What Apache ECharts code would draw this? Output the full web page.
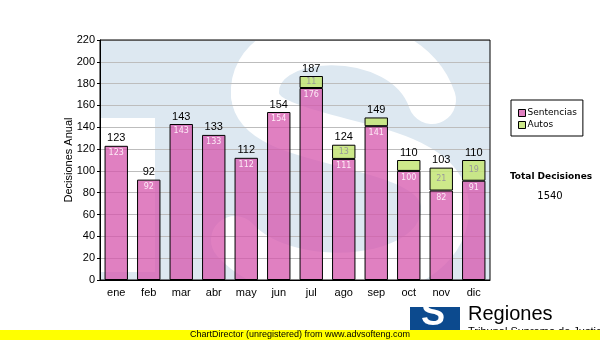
<!DOCTYPE html>
<html>
<head>
<meta charset="utf-8">
<script src="https://cdn.jsdelivr.net/npm/echarts@6/dist/echarts.min.js"></script>
<style>
html,body{margin:0;padding:0;background:#fff;}
#chart{width:600px;height:340px;}
</style>
</head>
<body>
<div id="chart"></div>
<script>
const categories = ['ene','feb','mar','abr','may','jun','jul','ago','sep','oct','nov','dic'];
const sentencias = [123, 92, 143, 133, 112, 154, 176, 111, 141, 100, 82, 91];
const autos = [0, 0, 0, 0, 0, 0, 11, 13, 8, 10, 21, 19];
const yTicks = { min: 0, max: 220, interval: 20 };
const seriesNames = ['Sentencias', 'Autos'];
const totals = sentencias.map((v, i) => v + autos[i]);
const grandTotal = totals.reduce((a, b) => a + b, 0);

const chart = echarts.init(document.getElementById('chart'), null, { renderer: 'canvas' });
const ARIAL = 'Liberation Sans, Arial, sans-serif';
const VERD = 'DejaVu Sans, Verdana, sans-serif';

function seg(x1, y1, c1x, c1y, c2x, c2y, x2, y2) {
  return { type: 'bezierCurve', z: 1, silent: true,
    shape: { x1: x1, y1: y1, cpx1: c1x, cpy1: c1y, cpx2: c2x, cpy2: c2y, x2: x2, y2: y2 },
    style: { fill: null, stroke: '#ffffff', lineWidth: 48, lineCap: 'round' } };
}

chart.setOption({
  animation: false,
  backgroundColor: '#ffffff',
  grid: { left: 100, right: 110, top: 40, bottom: 60, show: true, backgroundColor: 'transparent', borderColor: '#000', borderWidth: 1, z: 5 },
  legend: {
    data: seriesNames,
    orient: 'vertical',
    left: 511, top: 100,
    padding: [7, 6, 5, 7],
    itemGap: 0,
    itemWidth: 7, itemHeight: 7,
    borderColor: '#000', borderWidth: 1,
    icon: 'rect',
    itemStyle: { borderColor: '#000', borderWidth: 1 },
    textStyle: { fontFamily: VERD, fontSize: 9, color: '#000', lineHeight: 12, padding: [0, 0, 0, -3] }
  },
  xAxis: {
    type: 'category', data: categories, z: 6,
    axisLine: { lineStyle: { color: '#000', width: 1 } },
    axisTick: { alignWithLabel: true, length: 4, lineStyle: { color: '#000' } },
    axisLabel: { fontFamily: ARIAL, fontSize: 11, color: '#000', margin: 7 }
  },
  yAxis: {
    type: 'value', min: yTicks.min, max: yTicks.max, interval: yTicks.interval, z: 3,
    name: 'Decisiones Anual', nameLocation: 'middle', nameGap: 26, nameRotate: 90,
    nameMoveOverlap: false,
    nameTextStyle: { fontFamily: ARIAL, fontSize: 11, color: '#000' },
    axisLine: { show: true, lineStyle: { color: '#000', width: 1 } },
    axisTick: { show: true, length: 3, lineStyle: { color: '#000' } },
    axisLabel: { fontFamily: ARIAL, fontSize: 11, color: '#000', margin: 5 },
    splitLine: { show: true, lineStyle: { color: '#bdbdbd', width: 1 } }
  },
  graphic: [
    { type: 'rect', z: 1, silent: true, shape: { x: 100, y: 40, width: 390, height: 240 }, style: { fill: '#dde8f1' } },
    { type: 'rect', z: 1, silent: true, shape: { x: 100, y: 118, width: 55, height: 154 }, style: { fill: '#ffffff' } },
    seg(432, 100, 405, 20, 250, 25, 255, 95),
    seg(255, 95, 260, 150, 440, 135, 445, 205),
    seg(445, 205, 450, 285, 290, 300, 235, 240),
    { type: 'rect', z: 1, silent: true, shape: { x: 99, y: 280.5, width: 392, height: 30 }, style: { fill: '#ffffff' } },
    { type: 'rect', z: 1, silent: true, shape: { x: 99, y: 0, width: 392, height: 39.5 }, style: { fill: '#ffffff' } },
    { type: 'rect', z: 1, silent: true, shape: { x: 490.5, y: 0, width: 60, height: 300 }, style: { fill: '#ffffff' } },
    { type: 'text', z: 10, x: 551, y: 177, style: { text: 'Total Decisiones', font: 'bold 9px DejaVu Sans', fill: '#000', align: 'center', verticalAlign: 'middle' } },
    { type: 'text', z: 10, x: 550, y: 196, style: { text: String(grandTotal), font: '10px DejaVu Sans', fill: '#000', align: 'center', verticalAlign: 'middle' } },
    { type: 'rect', z: 10, shape: { x: 410, y: 307, width: 50, height: 25 }, style: { fill: '#0c4a8e' } },
    { type: 'text', z: 11, left: 421, top: 297, style: { text: 'S', font: 'bold 36px Liberation Sans', fill: '#ffffff' } },
    { type: 'rect', z: 12, shape: { x: 410, y: 307, width: 12, height: 8 }, style: { fill: '#0c4a8e' } },
    { type: 'text', z: 10, left: 468, top: 304, style: { text: 'Regiones', font: '20px Liberation Sans', fill: '#000' } },
    { type: 'text', z: 10, left: 468, top: 326, style: { text: 'Tribunal Supremo de Justicia', font: '11px Liberation Sans', fill: '#000' } },
    { type: 'rect', z: 20, shape: { x: 0, y: 330, width: 600, height: 10 }, style: { fill: '#ffff00' } },
    { type: 'text', z: 21, x: 190, y: 335, style: { text: 'ChartDirector (unregistered) from www.advsofteng.com', font: '9px Liberation Sans', fill: '#000', verticalAlign: 'middle' } }
  ],
  series: [
    {
      name: seriesNames[0], type: 'bar', stack: 'a', data: sentencias, z: 4,
      barCategoryGap: '28%',
      itemStyle: { color: 'rgba(214,86,172,0.75)', borderColor: '#000', borderWidth: 1 },
      label: { show: true, position: 'insideTop', distance: 3, fontFamily: VERD, fontSize: 8, color: '#fdeaf6' }
    },
    {
      name: seriesNames[1], type: 'bar', stack: 'a', data: autos.map(v => (v === 0 ? null : v)), z: 4,
      itemStyle: { color: 'rgba(196,229,118,0.85)', borderColor: '#000', borderWidth: 1 },
      label: { show: true, position: 'inside', fontFamily: VERD, fontSize: 8, color: '#9a9a9a',
        formatter: p => (p.value >= 11 ? String(p.value) : '') }
    },
    {
      name: 'Total', type: 'bar', data: totals, z: 4, barGap: '-100%', silent: true,
      itemStyle: { color: 'rgba(0,0,0,0)', borderWidth: 0 },
      label: { show: true, position: 'top', distance: 2, fontFamily: ARIAL, fontSize: 11, color: '#000' }
    }
  ]
});
</script>
</body>
</html>
